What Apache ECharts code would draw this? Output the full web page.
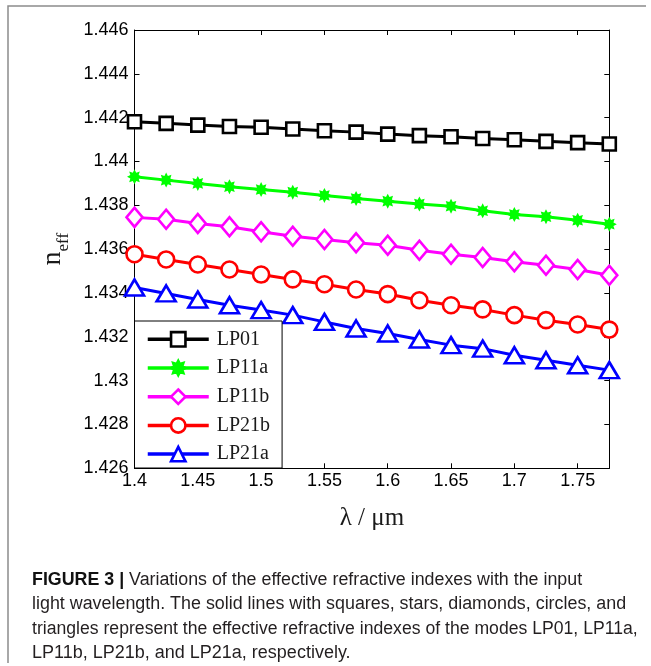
<!DOCTYPE html>
<html><head><meta charset="utf-8">
<script src="https://cdn.jsdelivr.net/npm/echarts/dist/echarts.min.js"></script>
<style>html,body{margin:0;padding:0;background:#fff}#c{width:651px;height:666px}</style>
</head><body><div id="c"></div>
<script>
// ---- data ----
const wavelengths = [1.4, 1.425, 1.45, 1.475, 1.5, 1.525, 1.55, 1.575, 1.6, 1.625, 1.65, 1.675, 1.7, 1.725, 1.75, 1.775];
const LP01  = [1.44181, 1.44174, 1.44166, 1.44160, 1.44156, 1.44148, 1.44140, 1.44134, 1.44125, 1.44118, 1.44113, 1.44105, 1.44099, 1.44092, 1.44086, 1.44080];
const LP11a = [1.43930, 1.43915, 1.43900, 1.43885, 1.43872, 1.43860, 1.43845, 1.43831, 1.43819, 1.43806, 1.43796, 1.43775, 1.43758, 1.43748, 1.43732, 1.43714];
const LP11b = [1.43745, 1.43736, 1.43717, 1.43702, 1.43679, 1.43659, 1.43644, 1.43629, 1.43618, 1.43595, 1.43577, 1.43562, 1.43542, 1.43527, 1.43507, 1.43481];
const LP21b = [1.43577, 1.43553, 1.43530, 1.43507, 1.43484, 1.43462, 1.43440, 1.43416, 1.43395, 1.43367, 1.43344, 1.43325, 1.43299, 1.43276, 1.43256, 1.43233];
const LP21a = [1.43425, 1.43398, 1.43370, 1.43344, 1.43322, 1.43299, 1.43268, 1.43238, 1.43215, 1.43188, 1.43162, 1.43146, 1.43116, 1.43093, 1.43070, 1.43048];
const seriesNames = ['LP01', 'LP11a', 'LP11b', 'LP21b', 'LP21a'];
const xAxisTitle = 'λ / μm';
const captionLines = [
  '{b|FIGURE 3 |} Variations of the effective refractive indexes with the input',
  'light wavelength. The solid lines with squares, stars, diamonds, circles, and',
  'triangles represent the effective refractive indexes of the modes LP01, LP11a,',
  'LP11b, LP21b, and LP21a, respectively.'
];

// ---- styling ----
const SANS = 'Liberation Sans, Arial, sans-serif';
const SERIF = 'Liberation Serif, Times New Roman, serif';
const STAR = 'path://M10,0 L12.3,4.46 L17.07,2.93 L15.54,7.7 L20,10 L15.54,12.3 L17.07,17.07 L12.3,15.54 L10,20 L7.7,15.54 L2.93,17.07 L4.46,12.3 L0,10 L4.46,7.7 L2.93,2.93 L7.7,4.46 Z';
const captionScaleX = [0.99, 0.993, 0.979, 1];
const fmt = v => String(parseFloat(Number(v).toFixed(4)));

function mk(name, vals, color, symbol, size, filled) {
  return {
    name: name, type: 'line', xAxisIndex: 0, yAxisIndex: 0,
    data: wavelengths.map((x, i) => [x, vals[i]]),
    symbol: symbol, symbolSize: size, showAllSymbol: true,
    lineStyle: { color: color, width: 3 },
    itemStyle: { color: filled ? color : '#fff', borderColor: color, borderWidth: filled ? 0 : 2.6 },
    emphasis: { disabled: true }, animation: false
  };
}

const axisBase = {
  type: 'value', gridIndex: 0,
  axisLine: { show: true, onZero: false, lineStyle: { color: '#000', width: 1 } },
  axisTick: { show: true, inside: true, length: 5, lineStyle: { color: '#000', width: 1 } },
  splitLine: { show: false }
};

const chart = echarts.init(document.getElementById('c'), null, { renderer: 'canvas' });
chart.setOption({
  backgroundColor: '#fff',
  animation: false,
  grid: { left: 134.5, right: 41.7, top: 30, bottom: 197.7, containLabel: false },
  xAxis: [
    Object.assign({}, axisBase, {
      position: 'bottom', min: 1.4, max: 1.775, interval: 0.05,
      axisLabel: { show: true, fontSize: 18, fontFamily: SANS, color: '#000', margin: 4, showMaxLabel: false, formatter: fmt },
      name: xAxisTitle, nameLocation: 'middle', nameGap: 38,
      nameTextStyle: { fontFamily: SERIF, fontSize: 25, color: '#1a1a1a' }
    }),
    Object.assign({}, axisBase, {
      position: 'top', min: 1.4, max: 1.775, interval: 0.05,
      axisLabel: { show: false }
    })
  ],
  yAxis: [
    Object.assign({}, axisBase, {
      position: 'left', min: 1.426, max: 1.446, interval: 0.002,
      axisLabel: { show: true, fontSize: 18, fontFamily: SANS, color: '#000', margin: 6, formatter: fmt },
      name: '{n|n}{s|eff}', nameLocation: 'middle', nameRotate: 90, nameGap: 62,
      nameTextStyle: {
        fontFamily: SERIF, color: '#1a1a1a',
        rich: {
          n: { fontSize: 28, fontFamily: SERIF, color: '#1a1a1a', verticalAlign: 'bottom', lineHeight: 28, padding: [0, 0, 6, 0] },
          s: { fontSize: 17, fontFamily: SERIF, color: '#1a1a1a', verticalAlign: 'bottom', lineHeight: 17 }
        }
      }
    }),
    Object.assign({}, axisBase, {
      position: 'right', min: 1.426, max: 1.446, interval: 0.002,
      axisLabel: { show: false }
    })
  ],
  legend: {
    orient: 'vertical', left: 134.5, top: 321,
    padding: [8.3, 12, 3.9, 11.5],
    itemWidth: 61, itemHeight: 18, itemGap: 8.7,
    backgroundColor: '#fff', borderColor: '#000', borderWidth: 1,
    selectedMode: false, z: 10,
    lineStyle: { width: 3.5 },
    itemStyle: { borderWidth: 2.6 },
    textStyle: { fontFamily: SERIF, fontSize: 20, color: '#1a1a1a', lineHeight: 18, padding: [0, 0, 0, 3] },
    data: seriesNames
  },
  series: [
    mk(seriesNames[0], LP01, '#000000', 'rect', 13, false),
    mk(seriesNames[1], LP11a, '#00ff00', STAR, 15, true),
    mk(seriesNames[2], LP11b, '#ff00ff', 'diamond', [16, 19], false),
    mk(seriesNames[3], LP21b, '#ff0000', 'circle', 16, false),
    mk(seriesNames[4], LP21a, '#0000ff', 'triangle', [19, 16], false)
  ],
  graphic: [
    { type: 'polyline', silent: true, shape: { points: [[646, 6], [8, 6], [8, 663]] },
      style: { stroke: '#8c8c8c', lineWidth: 1.5, fill: null } }
  ].concat(captionLines.map((t, i) => ({
    type: 'text', silent: true, x: 32, y: 580 + i * 24.5, scaleX: captionScaleX[i],
    style: {
      text: t, fontSize: 18, fontFamily: SANS, fill: '#231f20',
      verticalAlign: 'middle', textVerticalAlign: 'middle', align: 'left',
      rich: { b: { fontSize: 18, fontFamily: SANS, fontWeight: 'bold', fill: '#111' } }
    }
  })))
});
</script>
</body></html>
